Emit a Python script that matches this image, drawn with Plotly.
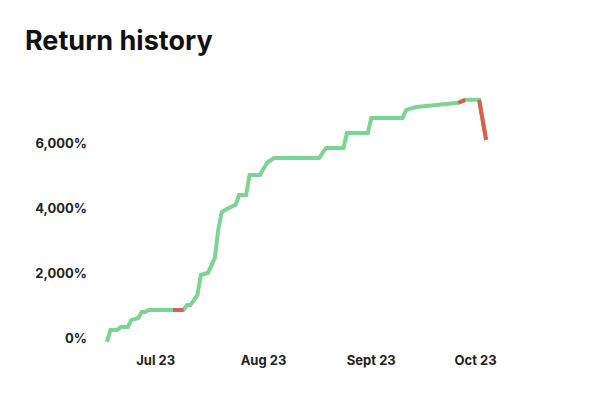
import plotly.graph_objects as go

dates = ["2023-06-17","2023-06-18","2023-06-20","2023-06-21","2023-06-23","2023-06-24","2023-06-26",
         "2023-06-27","2023-06-28","2023-06-29","2023-07-01","2023-07-06","2023-07-09","2023-07-10",
         "2023-07-11","2023-07-13","2023-07-14","2023-07-16","2023-07-18","2023-07-19","2023-07-20",
         "2023-07-22","2023-07-24","2023-07-25","2023-07-27","2023-07-28","2023-07-31","2023-08-02",
         "2023-08-04","2023-08-17","2023-08-19","2023-08-24","2023-08-25","2023-08-31","2023-09-01",
         "2023-09-10","2023-09-11","2023-09-14","2023-09-20","2023-09-26","2023-09-28","2023-10-02",
         "2023-10-04"]
returns = [-120, 250, 250, 340, 340, 550, 615, 800, 800, 860, 860, 860, 860, 1015,
           1015, 1320, 1940, 2000, 2460, 3330, 3880, 4000, 4100, 4400, 4400, 5020, 5020, 5390,
           5540, 5540, 5850, 5850, 6310, 6310, 6770, 6770, 7020, 7110, 7170, 7240, 7330, 7330,
           6100]
red_segments = [(11, 12), (39, 40), (41, 42)]

tick_dates = ["2023-07-01", "2023-08-01", "2023-09-01", "2023-10-01"]
tick_labels = ["Jul 23", "Aug 23", "Sept 23", "Oct 23"]
y_ticks = [0, 2000, 4000, 6000]
y_labels = ["0%", "2,000%", "4,000%", "6,000%"]

GREEN = "#7dd492"
RED = "#d9604e"

fig = go.Figure()
fig.add_trace(go.Scatter(x=dates, y=returns, mode="lines",
                         line=dict(color=GREEN, width=4), hoverinfo="skip"))
for a, b in red_segments:
    fig.add_trace(go.Scatter(x=dates[a:b + 1], y=returns[a:b + 1], mode="lines",
                             line=dict(color=RED, width=4), hoverinfo="skip"))

fig.update_layout(
    width=606, height=406, showlegend=False,
    plot_bgcolor="white", paper_bgcolor="white",
    margin=dict(l=92, r=114, t=72, b=63),
    title=dict(text="<b>Return history</b>", x=0.028, xanchor="left", y=0.921, yanchor="middle",
               font=dict(family="Inter, Roboto, sans-serif", size=27, color="#111")),
    font=dict(family="Inter, Roboto, sans-serif", size=13, color="#222"),
)
fig.update_xaxes(range=["2023-06-15", "2023-10-08"], tickvals=tick_dates, ticktext=tick_labels,
                 showgrid=False, zeroline=False, showline=False, ticks="",
                 tickfont=dict(size=13, color="#222", weight="bold"))
fig.update_yaxes(range=[-400, 7940], tickvals=y_ticks, ticktext=y_labels,
                 showgrid=False, zeroline=False, showline=False, ticks="", ticklabelstandoff=12,
                 tickfont=dict(size=13, color="#222", weight="bold"))

fig.write_html("out.html")
